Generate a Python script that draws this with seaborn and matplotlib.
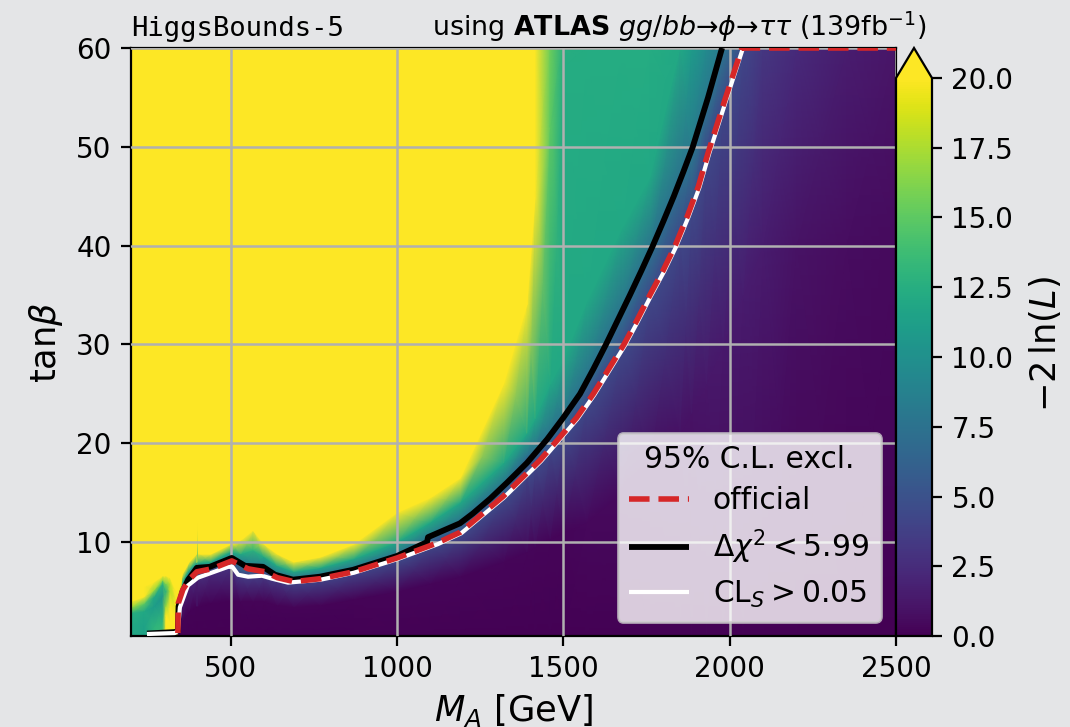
"""HiggsBounds-5 likelihood map for the ATLAS phi->tautau search"""
import numpy as np
import matplotlib
matplotlib.use('Agg')
import matplotlib.pyplot as plt
import seaborn as sns

# grid: for every M_A column the tanb heights of the colour bands
ma_nodes = [200, 240, 270, 295, 305, 318, 337, 343, 355, 375, 397, 400, 403, 440, 500, 530,
            567, 600, 640, 690, 770, 870, 1000, 1100, 1190, 1320, 1390, 1415, 1460,
            1500, 1570, 1675, 1760, 1850, 1885, 1930, 1980, 2040, 2100, 2200, 2350, 2500]
y_low = [1.5, 1.5, 1.5, 2, 2.5, 2, 1, 0.6, 2, 3, 3.5, 3.5, 3.5, 3.8, 4, 4,
         4, 4, 3.6, 3.4, 3.6, 4.2, 5, 5.8, 6.5, 8, 9, 9.5, 10.3,
         11, 12, 15, 18, 21, 23, 26, 30, 35, 40, 40, 40, 40]
y_line = [2.8, 3, 3.5, 4.5, 3.5, 3.4, 2, 0.9, 4.8, 5.8, 6.4, 6.4, 6.4, 7, 7.6, 6.5,
          6.4, 6.6, 6.2, 5.9, 6.2, 6.9, 8.2, 9.7, 10.9, 14.4, 17, 17.8, 19.4,
          20.8, 24.2, 29.6, 35, 41, 43.5, 49.8, 54.5, 60, 60, 60, 60, 60]
y_above = [3.4, 3.8, 4.5, 5.8, 5, 5, 3, 1.5, 5.6, 6.8, 7.5, 7.5, 7.5, 7.6, 8.5, 8,
           7.7, 7.6, 6.8, 6.3, 6.6, 7.3, 8.7, 10.4, 12, 15.8, 18.8, 19.4, 20.9,
           22.4, 26.4, 33.2, 39.4, 46.6, 49.3, 54.6, 60, 60, 60, 60, 60, 60]
y_teal = [4, 4.5, 5.2, 6.2, 5.8, 5.8, 4, 3, 6, 7.2, 7.9, 8, 7.9, 8, 9, 8.8,
          9.2, 8.5, 7.6, 7, 7.4, 8.3, 10, 12, 14, 18, 21, 22.5, 26,
          28.5, 34.3, 41.7, 46.9, 60, 60, 60, 60, 60, 60, 60, 60, 60]
y_yellow = [5, 5.5, 6, 6.6, 6.6, 6.4, 5, 5, 6.8, 8, 8.8, 12, 8.8, 8.8, 9.8, 10.2,
            11.2, 9.8, 8.8, 8, 8.5, 9.8, 13, 14.5, 16.5, 26, 34, 45, 52,
            58, 59, 60, 60, 60, 60, 60, 60, 60, 60, 60, 60, 60]

# -2ln(L) on those bands
v_bottom = [12, 11.5, 13, 14, 20, 20, 20, 0.1, 0, 0, 0, 0, 0, 0, 0, 0,
            0, 0, 0, 0, 0, 0, 0, 0, 0, 0, 0, 0, 0,
            0, 0, 0, 0, 0, 0, 0, 0, 0, 0, 0, 0, 0]
v_low = [12, 11.5, 13, 13, 20, 20, 20, 0.1, 0.1, 0.1, 0.1, 0.1, 0.1, 0.1, 0.1, 0.2,
         0.2, 0.2, 0.2, 0.2, 0.2, 0.2, 0.3, 0.3, 0.3, 0.3, 0.3, 0.3, 0.3,
         0.3, 0.4, 0.5, 0.7, 0.9, 1, 1.2, 1.4, 1.5, 1.5, 1, 0.7, 0.5]
v_line = [12.5, 12, 11, 10.5, 17, 20, 20, 0.5, 1.5, 2, 2.5, 2.5, 2.5, 2.5, 3, 3.5,
          3.5, 3.5, 3.5, 4, 4, 4, 4.5, 4.5, 4.5, 4.5, 4.5, 4.5, 4.5,
          4.5, 4.5, 4.5, 4.5, 4.5, 4.5, 4.5, 4.5, 4.3, 3.2, 2.4, 1.6, 1.1]
v_above = [17, 15, 12, 13, 12.5, 18, 20, 18, 9, 9, 9, 9, 9, 9, 9, 8.5,
           8.5, 8.5, 8, 7.5, 7.5, 7.5, 7.5, 7.5, 7.5, 7.5, 7.5, 7.5, 7.5,
           7.5, 7.5, 7.5, 7.5, 7.5, 8, 8, 8, 4.5, 3.2, 2.4, 1.6, 1.1]
v_teal = [20, 20, 17, 17, 16, 18, 20, 19, 12, 12, 12, 15, 12, 12, 12, 12,
          13, 12, 12, 12, 12, 12, 12, 12, 12, 12, 12, 12, 12,
          12, 12, 12, 12, 12, 11, 9.5, 8, 4.5, 3.2, 2.4, 1.6, 1.1]
v_yellow = [20, 20, 20, 20, 20, 20, 20, 20, 20, 20, 20, 20, 20, 20, 20, 20,
            20, 20, 20, 20, 20, 20, 20, 20, 20, 20, 20, 20, 15,
            12.3, 12.3, 12.3, 12.3, 12, 11, 9.5, 8, 4.5, 3.2, 2.4, 1.6, 1.1]
v_top = [20, 20, 20, 20, 20, 20, 20, 20, 20, 20, 20, 20, 20, 20, 20, 20,
         20, 20, 20, 20, 20, 20, 20, 20, 20, 20, 20, 20, 15.5,
         12.5, 12.3, 12.3, 12.3, 12, 11, 9.5, 8, 4.5, 3.2, 2.4, 1.6, 1.1]

# exclusion lines
official_ma = [341, 342, 356, 375, 398, 443, 503, 552, 603, 640, 690, 770, 870, 1000, 1120,
               1190, 1318, 1430, 1484, 1540, 1590, 1636, 1682, 1722, 1760, 1800, 1836, 1873,
               1906, 1936, 1988, 2037, 2500]
official_tb = [0.8, 3.8, 5.2, 6.2, 7.0, 7.3, 8.1, 7.3, 7.0, 6.4, 6.0, 6.3, 7.0, 8.4, 9.9,
               11, 14.6, 18.3, 20.4, 22.6, 25, 27.5, 30, 32.5, 35, 37.5, 40, 43,
               46, 49.5, 55, 60, 60]
chi2_ma = [248, 332, 341, 343, 355, 372, 398, 437, 503, 543, 597, 633, 687, 768, 868, 1000, 1090, 1093,
           1189, 1228, 1280, 1330, 1390, 1451, 1500, 1550, 1590, 1628, 1664, 1700, 1735, 1769,
           1801, 1832, 1861, 1889, 1935, 1977]
chi2_tb = [0.75, 0.9, 1, 3.5, 5, 6.2, 7.4, 7.5, 8.4, 7.6, 7.5, 6.7, 6.2, 6.5, 7.2, 8.6, 10, 10.5,
           11.9, 12.9, 14.4, 16, 18, 20.4, 22.6, 25, 27.5, 30, 32.5, 35, 37.5, 40,
           42.5, 45, 47.5, 50, 55, 60]
cls_ma = [248, 332, 341, 347, 371, 401, 492, 505, 522, 552, 594, 624, 672, 770, 870, 1003, 1123,
          1193, 1321, 1433, 1487, 1543, 1593, 1639, 1685, 1725, 1763, 1803, 1839, 1876,
          1909, 1939, 1991, 2040]
cls_tb = [0.7, 0.8, 1.0, 3.4, 5.6, 6.4, 7.5, 7.5, 6.7, 6.5, 6.6, 6.3, 5.9, 6.2, 6.9, 8.3, 9.8,
          10.9, 14.5, 18.2, 20.3, 22.5, 24.9, 27.4, 29.9, 32.4, 34.9, 37.4, 39.9, 42.9,
          45.9, 49.4, 54.9, 60]

sns.set_theme(style='ticks', rc={
    'figure.facecolor': '#e4e5e7',
    'axes.edgecolor': 'black',
    'axes.linewidth': 0.8,
    'text.color': 'black',
    'axes.labelcolor': 'black',
    'xtick.color': 'black',
    'ytick.color': 'black',
    'font.size': 10,
    'xtick.labelsize': 10,
    'ytick.labelsize': 10,
    'xtick.major.size': 3.5,
    'ytick.major.size': 3.5,
    'xtick.major.width': 0.8,
    'ytick.major.width': 0.8,
    'axes.labelsize': 12.7,
    'legend.fontsize': 10.7,
    'legend.title_fontsize': 10.7,
})
plt.rcParams['font.family'] = ['DejaVu Sans']
plt.rcParams['mathtext.fontset'] = 'dejavusans'

W, H = 1070, 727
fig = plt.figure(figsize=(W / 200, H / 200), dpi=200)
ax = fig.add_axes([131 / W, 1 - 636 / H, 765 / W, 588 / H])
cax = fig.add_axes([896 / W, 1 - 636 / H, 36 / W, 588 / H])

n = len(ma_nodes)
X = np.tile(np.array(ma_nodes, dtype=float), (7, 1))
Y = np.array([[0.5] * n, y_low, y_line, y_above, y_teal, y_yellow, [60] * n], dtype=float)
Z = np.array([v_bottom, v_low, v_line, v_above, v_teal, v_yellow, v_top], dtype=float)

cmap = sns.color_palette('viridis', as_cmap=True)
mesh = ax.pcolormesh(X, Y, Z, shading='gouraud', cmap=cmap, vmin=0, vmax=20, zorder=1)

ax.grid(True, color='#b0b0b0', lw=0.9, zorder=2)
ax.set_axisbelow(False)

sns.lineplot(x=chi2_ma, y=chi2_tb, sort=False, estimator=None, color='black', lw=2.1, ax=ax, zorder=3)
sns.lineplot(x=cls_ma, y=cls_tb, sort=False, estimator=None, color='white', lw=1.5, ax=ax, zorder=4)
sns.lineplot(x=official_ma, y=official_tb, sort=False, estimator=None, color='#d62728', lw=2,
             linestyle='--', ax=ax, zorder=5)
for line in ax.get_lines():
    line.set_solid_capstyle('butt')

black_line, white_line, red_line = [l for l in ax.get_lines() if len(l.get_xdata()) > 2]

ax.set_xlim(200, 2500)
ax.set_ylim(0.5, 60)
ax.set_xticks([500, 1000, 1500, 2000, 2500])
ax.set_yticks([10, 20, 30, 40, 50, 60])
ax.set_xlabel(r'$M_A$ [GeV]', labelpad=3)
ax.set_ylabel(r'$\mathrm{tan}\beta$')

leg = ax.legend([red_line, black_line, white_line],
                ['official', r'$\Delta\chi^2 < 5.99$', r'$\mathrm{CL}_S > 0.05$'],
                title='95% C.L. excl.', loc='lower right', labelspacing=0.42,
                bbox_to_anchor=(0.98, 0.024), borderaxespad=0, framealpha=0.8)
leg.set_zorder(6)

cbar = fig.colorbar(mesh, cax=cax, extend='max', extendfrac=30 / 558)
cbar.set_ticks([0, 2.5, 5, 7.5, 10, 12.5, 15, 17.5, 20])
cbar.ax.set_yticklabels(['0.0', '2.5', '5.0', '7.5', '10.0', '12.5', '15.0', '17.5', '20.0'])
cbar.set_label(r'$-2\,\ln(L)$', labelpad=5, y=0.523, fontsize=12.7)

fig.text(131 / W, 1 - 36 / H, 'HiggsBounds-5', family='monospace', fontsize=9.8, ha='left', va='baseline')
fig.text(926 / W, 1 - 36 / H,
         r'using $\bf{ATLAS}$ $gg/bb$→$\phi$→$\tau\tau$ (139fb$^{-1}$)',
         fontsize=9.7, ha='right', va='baseline')

fig.savefig('out.png', dpi=200)
